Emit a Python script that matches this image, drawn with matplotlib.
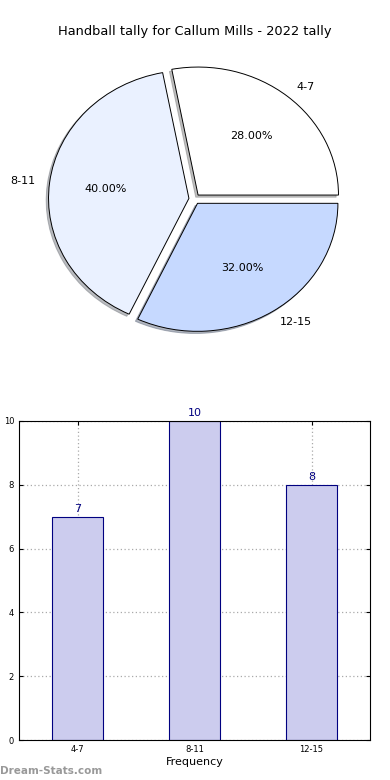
import matplotlib.pyplot as plt

# data
categories = ["4-7", "8-11", "12-15"]
counts = [7, 10, 8]
pie_colors = ["#ffffff", "#eaf1ff", "#c6d9ff"]

fig = plt.figure(figsize=(3.9, 7.8), dpi=100)

# pie
ax1 = fig.add_axes([19 / 390, 1 - 359 / 780, 351 / 390, 320 / 780])
wedges, texts, autotexts = ax1.pie(
    counts, labels=categories, colors=pie_colors, explode=[0.04] * 3,
    autopct="%1.2f%%", shadow={"ox": -0.012, "oy": -0.012, "shade": 0.5}, startangle=0,
    wedgeprops={"edgecolor": "black", "linewidth": 0.7},
    textprops={"fontsize": 8})
ax1.set_aspect("auto")
ax1.set_xlim(-1.25, 1.25)
ax1.set_ylim(-1.25, 1.25)
ax1.set_title("Handball tally for Callum Mills - 2022 tally", fontsize=9.4, pad=3)

# bar
ax2 = fig.add_axes([19 / 390, 40 / 780, 351 / 390, 319 / 780])
x = range(len(categories))
ax2.bar(x, counts, width=0.44, color="#ccccee", edgecolor="navy", linewidth=0.8, zorder=2)
for xi, c in zip(x, counts):
    ax2.text(xi, c + 0.08, str(c), ha="center", va="bottom", color="navy", fontsize=8)
ax2.set_xlim(-0.5, 2.5)
ax2.set_ylim(0, 10)
ax2.set_xticks(list(x))
ax2.set_xticklabels(categories)
ax2.set_yticks(range(0, 11, 2))
ax2.tick_params(labelsize=6, direction="in", top=True, right=True, length=3)
ax2.grid(True, linestyle=(0, (1, 2)), color="#aaaaaa", linewidth=0.9, zorder=0)
ax2.set_xlabel("Frequency", fontsize=8, labelpad=2)

fig.text(-4 / 390, 1 - 580 / 780, "Distribution", rotation=90, ha="center", va="center", fontsize=8)
fig.text(0.0, 1 - 771 / 780, "Dream-Stats.com", color="#999999", fontsize=7.5, fontweight="bold", va="center")

fig.savefig("out.png", dpi=100)
